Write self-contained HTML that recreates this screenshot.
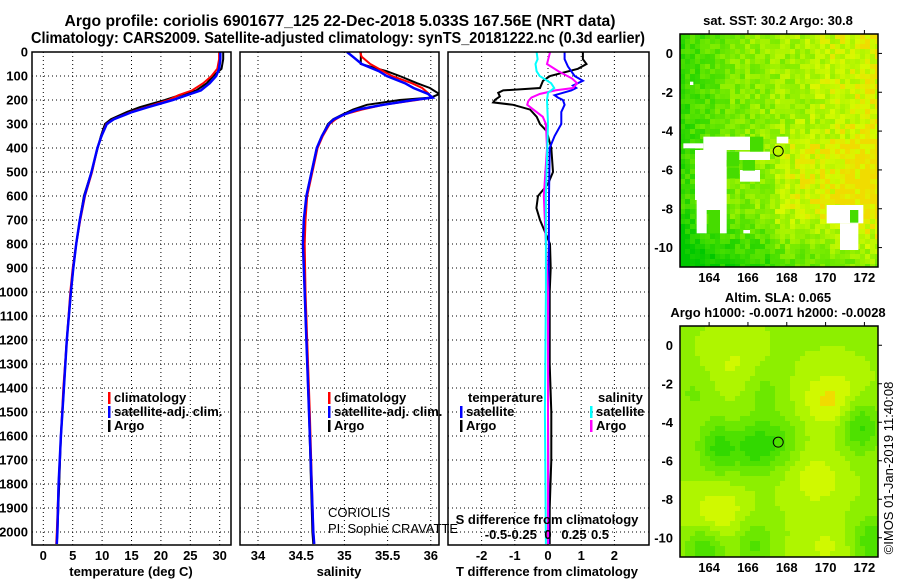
<!DOCTYPE html>
<html><head><meta charset="utf-8"><style>
html,body{margin:0;padding:0;background:#fff;}
svg{display:block;font-family:"Liberation Sans",Arial,sans-serif;}
.b{font-weight:bold;}
</style></head><body>
<svg id="c" width="900" height="580" viewBox="0 0 900 580" xmlns="http://www.w3.org/2000/svg">
<text x="340" y="26" text-anchor="middle" class="b" font-size="15.5" textLength="551" lengthAdjust="spacingAndGlyphs">Argo profile: coriolis 6901677_125 22-Dec-2018 5.033S 167.56E (NRT data)</text>
<text x="338" y="43" text-anchor="middle" class="b" font-size="15.5" textLength="614" lengthAdjust="spacingAndGlyphs">Climatology: CARS2009. Satellite-adjusted climatology: synTS_20181222.nc (0.3d earlier)</text>
<text x="778" y="25" text-anchor="middle" class="b" font-size="13">sat. SST: 30.2 Argo: 30.8</text>
<text x="778" y="302" text-anchor="middle" class="b" font-size="13">Altim. SLA: 0.065</text>
<text x="778" y="317" text-anchor="middle" class="b" font-size="13">Argo h1000: -0.0071 h2000: -0.0028</text>
<text transform="translate(893,468) rotate(-90)" text-anchor="middle" font-size="13">©IMOS 01-Jan-2019 11:40:08</text>
<g id="maps"></g>
<g id="plots"></g>
</svg>
<script>
// ---- profile data ----
const tDepth = [0,30,70,100,130,160,180,200,230,250,280,300,350,400,500,600,700,800,900,1000,1200,1400,1600,1800,2000,2050];
const tArgo = [30.6,30.6,30.3,28.9,27.8,26.0,23.2,20.7,16.4,14.2,11.5,10.5,9.8,9.25,8.2,6.9,6.2,5.6,5.1,4.7,4.0,3.5,3.0,2.7,2.4,2.3];
const tClim = [29.9,29.9,29.6,28.6,27.2,25.3,23.0,21.3,17.5,14.9,11.9,10.7,9.9,9.2,8.3,7.1,6.3,5.6,5.0,4.6,4.0,3.4,3.0,2.6,2.3,2.2];
const tSat = [30.1,30.1,29.9,29.4,28.3,26.8,24.4,22.0,17.8,15.1,12.0,10.8,9.9,9.2,8.2,7.0,6.2,5.6,5.1,4.7,4.0,3.5,3.0,2.6,2.4,2.3];
const sDepth = [0,20,50,80,100,130,150,175,190,200,220,240,260,280,300,350,400,500,600,700,800,1000,1200,1500,2000,2050];
const sArgo = [35.19,35.19,35.19,35.49,35.64,35.84,35.99,36.1,36.0,35.64,35.26,35.1,34.98,34.87,34.81,34.74,34.68,34.62,34.56,34.54,34.53,34.54,34.56,34.59,34.63,34.64];
const sClim = [35.18,35.2,35.3,35.45,35.55,35.78,35.9,35.98,36.0,35.84,35.45,35.2,35.0,34.9,34.83,34.75,34.69,34.63,34.57,34.55,34.54,34.55,34.57,34.6,34.64,34.65];
const sSat = [35.03,35.1,35.2,35.4,35.49,35.7,35.8,35.97,36.02,35.8,35.45,35.15,35.0,34.88,34.82,34.74,34.68,34.62,34.56,34.53,34.52,34.54,34.56,34.59,34.64,34.65];
const dtArgoDepth = [0,30,50,70,100,120,150,160,170,185,200,210,220,240,270,300,330,400,500,550,600,650,700,750,800,900,1000,1300,1500,1700,1900,2050];
const dtArgo = [1.05,1.05,1.16,0.9,0.06,-0.15,-0.24,-1.35,-1.5,-1.45,-1.6,-1.65,-1.05,-0.54,-0.34,-0.24,-0.04,0.1,0.15,0,-0.3,-0.35,-0.24,-0.09,0.06,0.08,0.05,0.05,0.1,0.1,0.05,0.05];
const dtSatDepth = [0,30,60,100,120,140,150,160,180,190,200,220,250,300,350,400,600,1000,1500,2050];
const dtSat = [0.5,0.5,0.6,0.8,1.05,0.75,0.85,0.7,0.2,0.3,0.45,0.5,0.4,0.4,0.2,0.05,0.03,0.02,0.0,0.02];
const dsArgoDepth = [0,50,80,110,130,150,160,175,190,205,220,240,270,300,400,600,1000,1500,2050];
const dsArgo = [0.02,-0.01,0.1,0.23,0.28,0.24,0.07,-0.08,-0.16,-0.19,-0.2,-0.14,-0.05,-0.02,-0.01,-0.04,0.0,0.0,0.0];
const dsSatDepth = [0,30,50,80,100,130,150,170,200,300,600,1000,1500,2050];
const dsSat = [-0.11,-0.1,-0.12,-0.11,-0.08,0.03,0.06,0,-0.01,0,-0.02,-0.02,-0.03,-0.02];
const depthTicks = [0,100,200,300,400,500,600,700,800,900,1000,1100,1200,1300,1400,1500,1600,1700,1800,1900,2000];
const tempTicks = [0,5,10,15,20,25,30];
const salTicks = [34,34.5,35,35.5,36];
const salTickLabels = ["34","34.5","35","35.5","36"];
const dtTicks = [-2,-1,0,1,2];
const dsTicks = [-0.5,-0.25,0,0.25,0.5];
const dsTickLabels = ["-0.5","-0.25","0","0.25","0.5"];
const lonTicks = [164,166,168,170,172];
const latTicks = [0,-2,-4,-6,-8,-10];
const floatLon = 167.56, floatLat = -5.033;

const NS = "http://www.w3.org/2000/svg";
const FS = 13;
function mk(tag, attrs, parent){const e=document.createElementNS(NS,tag);for(const k in attrs)e.setAttribute(k,attrs[k]);parent.appendChild(e);return e;}
const plots = document.getElementById('plots');
const PT=52, PB=545;
const yD = d => PT + d*0.24;
const xT = v => 43.3 + v*5.88;
const xS = v => 258 + (v-34)*86.4;
const xDT = v => 548 + v*33.2;
const xDS = v => 548 + v*104;

function panel(x0,x1,name){
  const g=mk('g',{},plots);
  
  
  const cp=mk('clipPath',{id:'clip-'+name},g);
  mk('rect',{x:x0,y:PT,width:x1-x0,height:PB-PT},cp);
  return g;
}
function grid(g,x0,x1,xs){
  depthTicks.forEach(d=>{ if(d>0){const l=mk('line',{x1:x0,x2:x1,y1:yD(d),y2:yD(d),stroke:'#000','stroke-width':1,'stroke-dasharray':'1,3'},g);
    
    }});
  xs.forEach(x=>{const l=mk('line',{x1:x,x2:x,y1:PT,y2:PB,stroke:'#000','stroke-width':1,'stroke-dasharray':'1,3'},g);
    
    });
}
function frame(g,x0,x1){
  const r=mk('rect',{x:x0,y:PT,width:x1-x0,height:PB-PT,fill:'none',stroke:'#000','stroke-width':1.5},g);
  
  
}
function line(g,depths,vals,xf,color,name,clip,w){
  const pts=depths.map((d,i)=>xf(vals[i]).toFixed(1)+','+yD(d).toFixed(1)).join(' ');
  const p=mk('polyline',{points:pts,fill:'none',stroke:color,'stroke-width':w||2,'clip-path':'url(#clip-'+clip+')'},g);
  
  
}
function txt(g,x,y,s,name,opts){
  const t=mk('text',Object.assign({x:x,y:y,'font-size':FS,'font-weight':'bold'},opts||{}),g);
  t.textContent=s;
  
  
  return t;
}
function legendItem(g,x,y,color,label,name){
  const r=mk('rect',{x:x,y:y-10,width:2.5,height:12,fill:color},g);
  
  
  txt(g,x+6,y,label,name);
}

// Panel 1 temperature
const g1=panel(32,231,'temperature-panel');
grid(g1,32,231,tempTicks.map(xT));
line(g1,tDepth,tArgo,xT,'#000','argo-temperature-line','temperature-panel');
line(g1,tDepth,tClim,xT,'#f00','climatology-temperature-line','temperature-panel');
line(g1,tDepth,tSat,xT,'#00f','satellite-temperature-line','temperature-panel',2.5);
frame(g1,32,231);
depthTicks.forEach(d=>txt(g1,28,yD(d)+4.5,String(d),'depth-tick-label',{'text-anchor':'end'}));
tempTicks.forEach(v=>txt(g1,xT(v),560,String(v),'temperature-tick-label',{'text-anchor':'middle'}));
txt(g1,131,576,'temperature (deg C)','temperature-axis-title',{'text-anchor':'middle'});
legendItem(g1,108,402,'#f00','climatology','legend-climatology');
legendItem(g1,108,416,'#00f','satellite-adj. clim.','legend-satellite-adj');
legendItem(g1,108,430,'#000','Argo','legend-argo');

// Panel 2 salinity
const g2=panel(240,439,'salinity-panel');
grid(g2,240,439,salTicks.map(xS));
line(g2,sDepth,sArgo,xS,'#000','argo-salinity-line','salinity-panel');
line(g2,sDepth,sClim,xS,'#f00','climatology-salinity-line','salinity-panel');
line(g2,sDepth,sSat,xS,'#00f','satellite-salinity-line','salinity-panel',2.5);
frame(g2,240,439);
salTicks.forEach((v,i)=>txt(g2,xS(v),560,salTickLabels[i],'salinity-tick-label',{'text-anchor':'middle'}));
txt(g2,339,576,'salinity','salinity-axis-title',{'text-anchor':'middle'});
legendItem(g2,328,402,'#f00','climatology','legend-climatology-2');
legendItem(g2,328,416,'#00f','satellite-adj. clim.','legend-satellite-adj-2');
legendItem(g2,328,430,'#000','Argo','legend-argo-2');
txt(g2,328,517,'CORIOLIS','float-agency',{'font-weight':'normal'});
txt(g2,328,533,'PI: Sophie CRAVATTE','float-pi',{'font-weight':'normal'});

// Panel 3 differences
const g3=panel(448,649,'difference-panel');
grid(g3,448,649,dtTicks.map(xDT));
line(g3,dtArgoDepth,dtArgo,xDT,'#000','argo-temperature-diff-line','difference-panel');
line(g3,dtSatDepth,dtSat,xDT,'#00f','satellite-temperature-diff-line','difference-panel');
line(g3,dsArgoDepth,dsArgo,xDS,'#f0f','argo-salinity-diff-line','difference-panel');
line(g3,dsSatDepth,dsSat,xDS,'#0ff','satellite-salinity-diff-line','difference-panel');
frame(g3,448,649);
dtTicks.forEach(v=>txt(g3,xDT(v),560,String(v),'t-diff-tick-label',{'text-anchor':'middle'}));
dsTicks.forEach((v,i)=>txt(g3,xDS(v),539,dsTickLabels[i],'s-diff-tick-label',{'text-anchor':'middle'}));
txt(g3,547,524,'S difference from climatology','s-diff-axis-title',{'text-anchor':'middle'});
txt(g3,547,576,'T difference from climatology','t-diff-axis-title',{'text-anchor':'middle'});
txt(g3,468,402,'temperature','legend-temperature-heading');
txt(g3,598,402,'salinity','legend-salinity-heading');
legendItem(g3,460,416,'#00f','satellite','legend-t-satellite');
legendItem(g3,460,430,'#000','Argo','legend-t-argo');
legendItem(g3,590,416,'#0ff','satellite','legend-s-satellite');
legendItem(g3,590,430,'#f0f','Argo','legend-s-argo');

// ---- maps ----
const maps=document.getElementById('maps');
const LON0=162.5, LON1=172.7, LAT0=1.0, LAT1=-11.0, MX0=680, MX1=878;
const lonX = lon => MX0 + (lon-LON0)*(MX1-MX0)/(LON1-LON0);
function ramp(v){
  const stops=[[0,[0,200,0]],[0.3,[60,220,0]],[0.55,[120,235,0]],[0.75,[175,245,0]],[0.9,[215,250,0]],[1,[240,220,0]]];
  v=Math.max(0,Math.min(1,v));
  for(let i=1;i<stops.length;i++){if(v<=stops[i][0]){const a=stops[i-1],b=stops[i];const t=(v-a[0])/(b[0]-a[0]);
    return 'rgb('+a[1].map((c,k)=>Math.round(c+(b[1][k]-c)*t)).join(',')+')';}}
  return 'rgb(240,220,0)';
}
function hash(i,j){let h=(i*374761393+j*668265263)|0;h=(h^(h>>>13))*1274126177|0;return ((h^(h>>>16))>>>0)/4294967295;}
function drawMap(top,bottom,field,cell,name){
  const g=mk('g',{},maps);
  
  
  const latY = lat => top + (LAT0-lat)*(bottom-top)/(LAT0-LAT1);
  for(let y=top;y<bottom;y+=cell){for(let x=MX0;x<MX1;x+=cell){
    const lon=LON0+(x+cell/2-MX0)*(LON1-LON0)/(MX1-MX0), lat=LAT0-(y+cell/2-top)*(LAT0-LAT1)/(bottom-top);
    mk('rect',{x:x,y:y,width:Math.min(cell+0.3,MX1-x),height:Math.min(cell+0.3,bottom-y),fill:ramp(field(lon,lat,Math.round(x/cell),Math.round(y/cell)))},g);
  }}
  return {g,latY};
}
// SST map
const sst=drawMap(34,267,(lon,lat,i,j)=>{
  let v=0.6+ (lon-166)*0.05 - Math.max(0,-lat-8)*0.14 - Math.max(0,165-lon)*0.07 + (lat<-4.5&&lon>167.5?0.12:0);
  return v+(hash(i,j)-0.5)*0.3;
},5,'sst-map');
const W='#fff';
[[100,430,160,445],[160,410,300,450],[135,450,230,600],[210,455,360,480],[270,510,330,545],[140,600,230,630],[140,630,170,700],[210,630,230,700],[380,410,415,430],[530,615,640,670],[570,670,625,750],[120,245,130,255],[280,690,300,700]].forEach(r=>{
  mk('rect',{x:650+r[0]/3,y:r[1]/3,width:(r[2]-r[0])/3,height:(r[3]-r[1])/3,fill:W},sst.g);});
[[230,455,268,500],[278,480,315,512],[232,502,268,535],[300,410,340,455],[175,630,210,700],[600,630,625,668]].forEach(r=>{
  mk('rect',{x:650+r[0]/3,y:r[1]/3,width:(r[2]-r[0])/3,height:(r[3]-r[1])/3,fill:'rgb(70,220,0)'},sst.g);});
// SLA map
const lows=[[164.5,-5.3,0.9],[166.3,-5.3,0.9],[167.6,-5.0,0.6],[171.8,-4.2,0.9],[163.8,-10.6,0.8],[172.4,-10.2,0.8],[166.3,-10.3,0.6],[163.2,-2.5,0.3],[166.8,-2.3,0.35]];
const highs=[[170.3,-2.8,1.0],[164.5,-8.8,0.9],[169.5,-7.0,0.7],[165.3,-1.0,0.5],[170.0,-10.5,0.5]];
const sla=drawMap(326,557,(lon,lat)=>{
  let v=0.68;
  lows.forEach(p=>{v-=0.45*p[2]*Math.exp(-((lon-p[0])**2/1.0+(lat-p[1])**2/1.8));});
  highs.forEach(p=>{v+=0.3*p[2]*Math.exp(-((lon-p[0])**2/2.0+(lat-p[1])**2/2.0));});
  return Math.round(v*8)/8;
},5,'sla-map');
[[sst,34,267,282],[sla,326,557,572]].forEach(([m,top,bottom,ly])=>{
  const g=m.g;
  const fr=mk('rect',{x:MX0,y:top,width:MX1-MX0,height:bottom-top,fill:'none',stroke:'#000','stroke-width':1.5},g);
  
  
  lonTicks.forEach(v=>{mk('line',{x1:lonX(v),x2:lonX(v),y1:top-4,y2:top,stroke:'#000'},g);
    txt(g,lonX(v),ly,String(v),'longitude-tick-label',{'text-anchor':'middle'});});
  latTicks.forEach(v=>{mk('line',{x1:MX1,x2:MX1+4,y1:m.latY(v),y2:m.latY(v),stroke:'#000'},g);
    txt(g,673,m.latY(v)+4.5,String(v),'latitude-tick-label',{'text-anchor':'end'});});
  const c=mk('circle',{cx:lonX(floatLon),cy:m.latY(floatLat),r:5,fill:'none',stroke:'#000','stroke-width':1},g);
  
  
});
</script>
</body></html>
